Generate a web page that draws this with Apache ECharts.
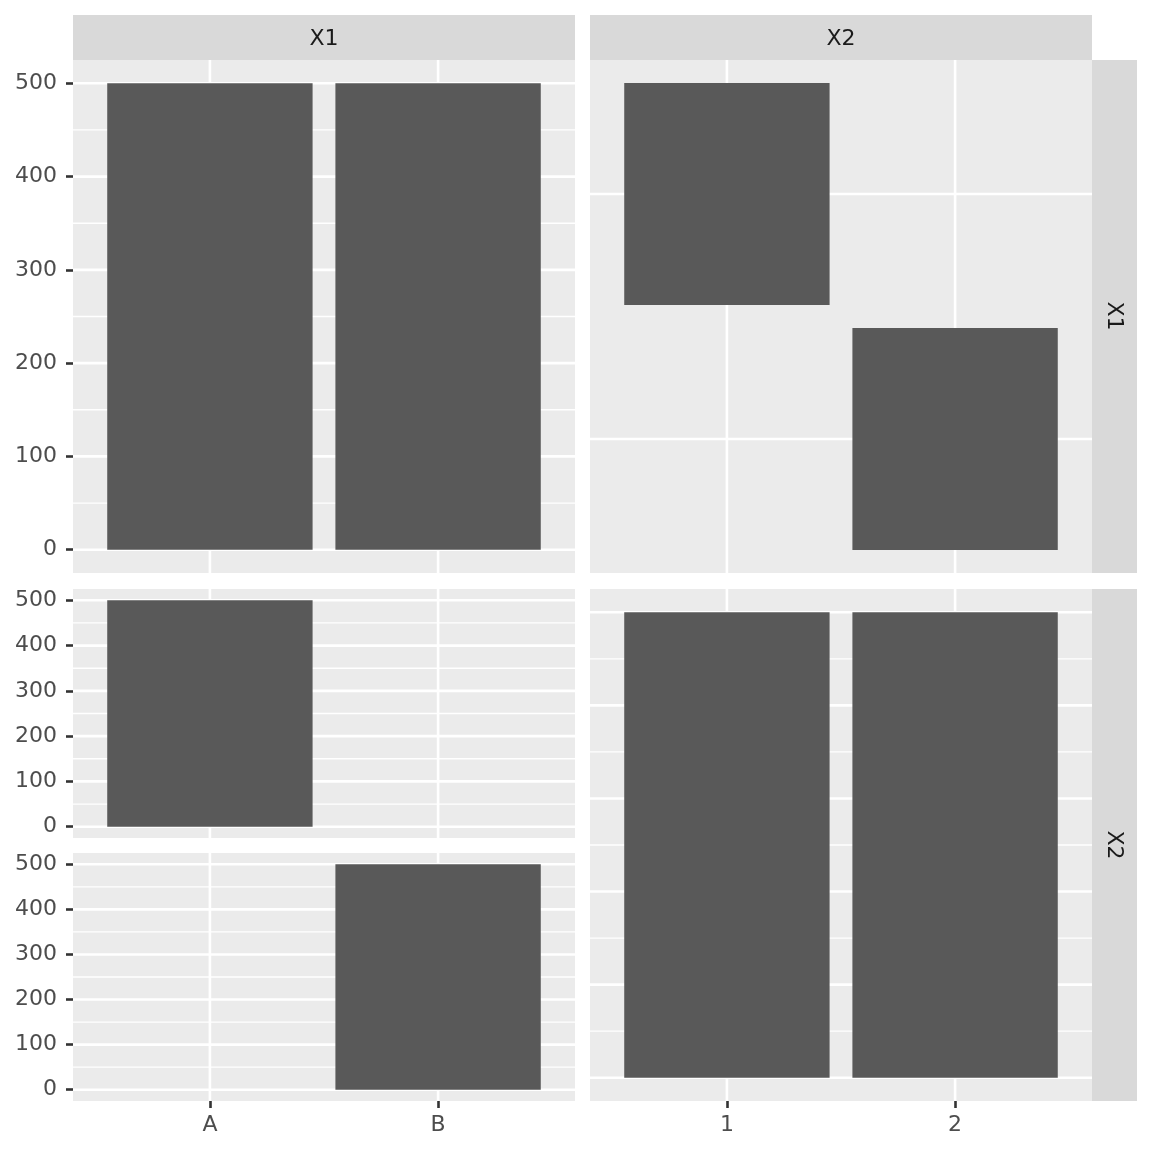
<!DOCTYPE html>
<html>
<head>
<meta charset="utf-8">
<script src="https://cdn.jsdelivr.net/npm/echarts@6/dist/echarts.min.js"></script>
<style>html,body{margin:0;padding:0;background:#fff}#c{width:1152px;height:1152px}</style>
</head>
<body>
<div id="c"></div>
<script>
// ---- data ----
const x1Levels = ['A', 'B'];          // variable X1
const x2Levels = ['1', '2'];          // variable X2
const diagX1Counts = [500, 500];      // bar chart of X1 (top-left)
const diagX2Counts = [500, 500];      // bar chart of X2 (bottom-right)
const facetRowX2 = ['1', '2'];        // facet rows of lower-left facetbar
const facetX1CountsRow1 = [500, 0];   // X1 counts where X2 = 1
const facetX1CountsRow2 = [0, 500];   // X1 counts where X2 = 2
const countCellX = ['1', '2'];        // count plot (top-right): X2 level
const countCellY = ['A', 'B'];        // count plot: X1 level
const countCellN = [500, 500];        // count plot: counts
const yBreaks = [0, 100, 200, 300, 400, 500];
const yMinorBreaks = [50, 150, 250, 350, 450];
const stripNames = ['X1', 'X2'];

// ---- style ----
const FONT = 'DejaVu Sans';
const FS = 22;
const PANEL = '#EBEBEB', STRIP = '#D9D9D9', BAR = '#595959';
const MAJ = 2.6, MIN = 1.3;

const grids = [
  {left: 73, top: 60, width: 502, height: 513},   // 0 top-left
  {left: 590, top: 60, width: 502, height: 513},  // 1 top-right
  {left: 73, top: 589, width: 502, height: 249},  // 2 lower-left row 1
  {left: 73, top: 853, width: 502, height: 248},  // 3 lower-left row 2
  {left: 590, top: 589, width: 502, height: 512}  // 4 bottom-right
].map(g => Object.assign({show: true, backgroundColor: PANEL, borderWidth: 0, containLabel: false}, g));

function xAxisDef(gi, cats, showAxis) {
  const idx = cats.map((c, i) => i + 1);
  return {
    type: 'value', gridIndex: gi, min: 0.4, max: 2.6, position: 'bottom',
    splitLine: {show: false}, axisLine: {show: false, onZero: false},
    axisTick: {show: showAxis, customValues: idx, length: 7, lineStyle: {color: '#333333', width: MAJ}},
    axisLabel: {show: showAxis, customValues: idx, margin: 13, color: '#4D4D4D', fontFamily: FONT, fontSize: FS,
      formatter: v => cats[Math.round(v) - 1] || ''}
  };
}
function yAxisDef(gi, showAxis) {
  return {
    type: 'value', gridIndex: gi, min: -25, max: 525, position: 'left',
    splitLine: {show: false}, axisLine: {show: false, onZero: false},
    axisTick: {show: showAxis, customValues: yBreaks, length: 7, lineStyle: {color: '#333333', width: MAJ}},
    axisLabel: {show: showAxis, customValues: yBreaks, margin: 16, padding: [4, 0, 0, 0], color: '#4D4D4D', fontFamily: FONT, fontSize: FS}
  };
}

const xAxes = [
  xAxisDef(0, x1Levels, false),
  xAxisDef(1, x2Levels, false),
  xAxisDef(2, x1Levels, false),
  xAxisDef(3, x1Levels, true),
  xAxisDef(4, x2Levels, true)
];
const yAxes = [
  yAxisDef(0, true),
  {type: 'value', gridIndex: 1, min: 0.453, max: 2.547, inverse: true,
   splitLine: {show: false}, axisLine: {show: false, onZero: false}, axisTick: {show: false}, axisLabel: {show: false}},
  yAxisDef(2, true),
  yAxisDef(3, true),
  yAxisDef(4, false)
];

// gridline items: [orientation(0 = horizontal, 1 = vertical), value, major?]
function gridItems(xBreaks, hMajor, hMinor) {
  const items = [];
  hMinor.forEach(v => items.push([0, v, 0]));
  hMajor.forEach(v => items.push([0, v, 1]));
  xBreaks.forEach(v => items.push([1, v, 1]));
  return items;
}
const xPos = [1, 2];
function gridLineSeries(gi, items) {
  return {
    type: 'custom', xAxisIndex: gi, yAxisIndex: gi, z: 1, silent: true, clip: true,
    data: items,
    renderItem: function (params, api) {
      const cs = params.coordSys;
      const o = api.value(0), v = api.value(1), major = api.value(2);
      let shape;
      if (o === 0) {
        const y = api.coord([1, v])[1];
        shape = {x1: cs.x, y1: y, x2: cs.x + cs.width, y2: y};
      } else {
        const x = api.coord([v, 1])[0];
        shape = {x1: x, y1: cs.y, x2: x, y2: cs.y + cs.height};
      }
      return {type: 'line', shape: shape, style: {stroke: '#FFFFFF', lineWidth: major ? MAJ : MIN}};
    }
  };
}
function rectSeries(gi, data, halfW) {
  // data: [xCenter, yTop, yBase] in axis units
  return {
    type: 'custom', xAxisIndex: gi, yAxisIndex: gi, z: 2, silent: true,
    data: data,
    renderItem: function (params, api) {
      const xc = api.value(0), yt = api.value(1), yb = api.value(2);
      const p1 = api.coord([xc - halfW, yt]);
      const p2 = api.coord([xc + halfW, yb]);
      return {type: 'rect', shape: {
        x: Math.min(p1[0], p2[0]), y: Math.min(p1[1], p2[1]),
        width: Math.abs(p2[0] - p1[0]), height: Math.abs(p2[1] - p1[1])},
        style: {fill: BAR}};
    }
  };
}
function barData(counts) {
  return counts.map((n, i) => [i + 1, n, 0]).filter(d => d[1] > 0);
}
const maxCount = Math.max(...countCellN);
const countData = countCellN.map((n, i) => {
  const xc = x2Levels.indexOf(countCellX[i]) + 1;
  const yc = x1Levels.indexOf(countCellY[i]) + 1;
  const h = 0.453 * Math.sqrt(n / maxCount);
  return [xc, yc - h, yc + h];
});

const series = [
  gridLineSeries(0, gridItems(xPos, yBreaks, yMinorBreaks)),
  gridLineSeries(1, gridItems(xPos, [1, 2], [])),
  gridLineSeries(2, gridItems(xPos, yBreaks, yMinorBreaks)),
  gridLineSeries(3, gridItems(xPos, yBreaks, yMinorBreaks)),
  gridLineSeries(4, gridItems(xPos, yBreaks, yMinorBreaks)),
  rectSeries(0, barData(diagX1Counts), 0.45),
  rectSeries(1, countData, 0.45),
  rectSeries(2, barData(facetX1CountsRow1), 0.45),
  rectSeries(3, barData(facetX1CountsRow2), 0.45),
  rectSeries(4, barData(diagX2Counts), 0.45)
];

const stripText = {fill: '#1A1A1A', font: FS + 'px "' + FONT + '"', align: 'center', verticalAlign: 'middle'};
const graphic = [
  {type: 'rect', shape: {x: 73, y: 15, width: 502, height: 45}, style: {fill: STRIP}},
  {type: 'rect', shape: {x: 590, y: 15, width: 502, height: 45}, style: {fill: STRIP}},
  {type: 'rect', shape: {x: 1092, y: 60, width: 45, height: 513}, style: {fill: STRIP}},
  {type: 'rect', shape: {x: 1092, y: 589, width: 45, height: 512}, style: {fill: STRIP}},
  {type: 'text', x: 324, y: 39, style: Object.assign({text: stripNames[0]}, stripText)},
  {type: 'text', x: 841, y: 39, style: Object.assign({text: stripNames[1]}, stripText)},
  {type: 'text', x: 1114, y: 316, rotation: -Math.PI / 2, style: Object.assign({text: stripNames[0]}, stripText)},
  {type: 'text', x: 1114, y: 845, rotation: -Math.PI / 2, style: Object.assign({text: stripNames[1]}, stripText)}
];

const chart = echarts.init(document.getElementById('c'), null, {renderer: 'canvas'});
chart.setOption({
  animation: false,
  backgroundColor: '#FFFFFF',
  grid: grids,
  xAxis: xAxes,
  yAxis: yAxes,
  series: series,
  graphic: graphic
});
</script>
</body>
</html>
